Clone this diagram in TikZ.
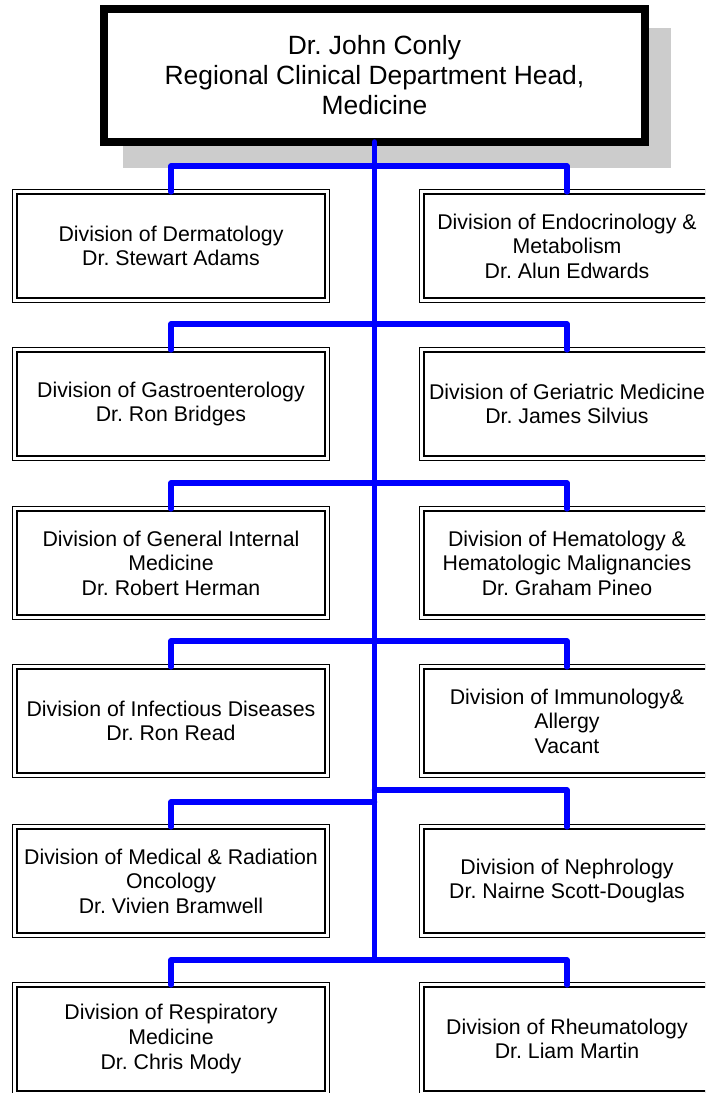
\documentclass[tikz,border=0pt]{standalone}
\usepackage{fontspec}
\setmainfont{Liberation Sans}
\frenchspacing
\definecolor{shadowgray}{HTML}{CCCCCC}
\definecolor{linkblue}{HTML}{0000FF}
\newcommand{\divfont}{\fontsize{21.3}{24.6}\selectfont\frenchspacing}
\newcommand{\headfont}{\fontsize{26.4}{30}\selectfont\frenchspacing}
\begin{document}
\begin{tikzpicture}[x=1pt,y=-1pt,
  divbox/.style={draw=black, double=white, double distance=3.1pt, line width=1.2pt,
    fill=white, minimum height=108.3pt, inner sep=0pt, outer sep=0pt,
    align=center, font=\divfont},
  leftbox/.style={divbox, minimum width=312.3pt},
  rightbox/.style={divbox, minimum width=290.3pt},
  headbox/.style={draw=black, line width=8pt, fill=white, minimum width=541pt,
    minimum height=133pt, inner sep=0pt, outer sep=0pt, align=center, font=\headfont},
  conn/.style={draw=linkblue, line width=5.5pt, line cap=round, line join=round}]
\useasboundingbox (0,0) rectangle (705,1093);
\clip (0,0) rectangle (705,1093);
% shadow
\fill[shadowgray] (123,28) rectangle (671,168);
% head
\node[headbox] (head) at (374.5,75.5) {Dr. John Conly\\Regional Clinical Department Head,\\Medicine};
% divisions
\node[leftbox]  (l1) at (171,246) {Division of Dermatology\\Dr. Stewart Adams};
\node[rightbox] (r1) at (567,246) {Division of Endocrinology \&\\Metabolism\\Dr. Alun Edwards};
\node[leftbox]  (l2) at (171,404) {Division of Gastroenterology\\Dr. Ron Bridges};
\node[rightbox] (r2) at (567,404) {Division of Geriatric Medicine\\Dr. James Silvius};
\node[leftbox]  (l3) at (171,563) {Division of General Internal\\Medicine\\Dr. Robert Herman};
\node[rightbox] (r3) at (567,563) {Division of Hematology \&\\Hematologic Malignancies\\Dr. Graham Pineo};
\node[leftbox]  (l4) at (171,721) {Division of Infectious Diseases\\Dr. Ron Read};
\node[rightbox] (r4) at (567,721) {Division of Immunology\&\\Allergy\\Vacant};
\node[leftbox]  (l5) at (171,881) {Division of Medical \& Radiation\\Oncology\\Dr. Vivien Bramwell};
\node[rightbox] (r5) at (567,881) {Division of Nephrology\\Dr. Nairne Scott-Douglas};
\node[leftbox]  (l6) at (171,1039) {Division of Respiratory\\Medicine\\Dr. Chris Mody};
\node[rightbox] (r6) at (567,1039) {Division of Rheumatology\\Dr. Liam Martin};
% connectors
\coordinate (trunkend) at (374.5,960);
\coordinate (j5l) at (374.5,802);
\coordinate (j5r) at (374.5,790);
\draw[conn] (head.south) -- (trunkend);
\draw[conn] (l1.north) -- ++(0,-25.8) -| (r1.north);
\draw[conn] (l2.north) -- ++(0,-25.8) -| (r2.north);
\draw[conn] (l3.north) -- ++(0,-25.8) -| (r3.north);
\draw[conn] (l4.north) -- ++(0,-25.8) -| (r4.north);
\draw[conn] (l5.north) |- (j5l);
\draw[conn] (j5r) -| (r5.north);
\draw[conn] (l6.north) -- ++(0,-24.8) -| (r6.north);
\end{tikzpicture}
\end{document}
